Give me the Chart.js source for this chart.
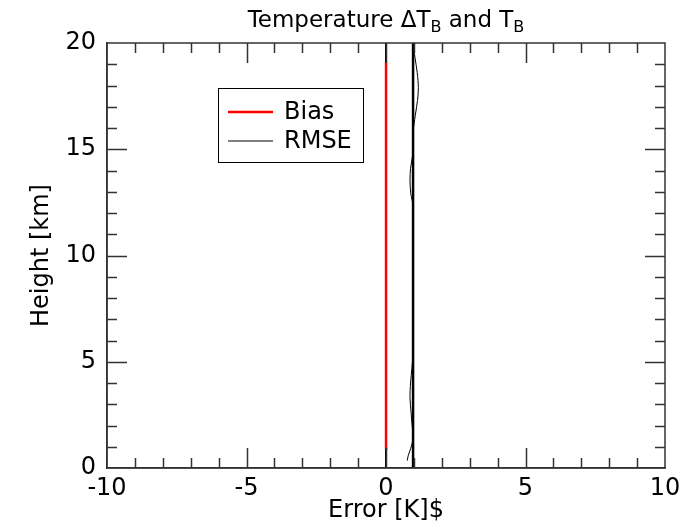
<!DOCTYPE html>
<html>
<head>
<meta charset="utf-8">
<script src="https://cdn.jsdelivr.net/npm/chart.js@4.4.1/dist/chart.umd.min.js"></script>
<style>
html,body{margin:0;padding:0;background:#fff;}
#wrap{width:699px;height:532px;}
</style>
</head>
<body>
<div id="wrap"><canvas id="c" width="699" height="532"></canvas></div>
<script>
// ---- data ----
const titleParts = [["Temperature \u0394T", false], ["B", true], [" and T", false], ["B", true]];
const xAxisTitle = "Error [K]$";
const yAxisTitle = "Height [km]";
const xTicks = [-10, -5, 0, 5, 10];
const yTicks = [0, 5, 10, 15, 20];

const zeroHeights = [0, 20];
const zeroValues = [0, 0];

const biasHeights = [0.9, 4.0, 7.3, 10.0, 13.0, 16.0, 19.1];
const biasValues  = [0.0, 0.0, 0.01, 0.0, 0.0, 0.0, 0.0];

const refHeights = [0, 20];
const refValues  = [0.97, 0.97];

const rmseHeights = [0.35, 0.6, 0.9, 1.3, 1.7, 2.1, 2.6, 3.3, 4.0, 4.7, 5.5, 8.0, 10.0, 12.4, 12.9, 13.5, 14.1, 14.7, 15.8, 16.6, 17.3, 17.9, 18.6, 19.3, 20.0];
const rmseValues  = [0.76, 0.80, 0.88, 0.96, 0.96, 0.93, 0.90, 0.86, 0.88, 0.93, 0.97, 0.97, 0.97, 0.96, 0.89, 0.86, 0.88, 0.95, 0.97, 1.05, 1.13, 1.16, 1.12, 1.04, 0.97];

const pts = (xs, ys) => ys.map((y, i) => ({x: xs[i], y: y}));

const FONT = "'DejaVu Sans', sans-serif";
const AXC = '#333333';

const decor = {
  id: 'decor',
  afterDraw(chart) {
    const ctx = chart.ctx;
    const a = chart.chartArea;
    const xs = chart.scales.x, ys = chart.scales.y;
    ctx.save();
    ctx.strokeStyle = AXC; ctx.lineWidth = 1.5;
    ctx.strokeRect(a.left, a.top, a.right - a.left, a.bottom - a.top);
    ctx.beginPath();
    for (let v = -10; v <= 10; v++) {
      if (v === -10 || v === 10) continue;
      const p = Math.round(xs.getPixelForValue(v)) + 0.5;
      const L = (v % 5 === 0) ? 20 : 10;
      ctx.moveTo(p, a.bottom); ctx.lineTo(p, a.bottom - L);
      ctx.moveTo(p, a.top); ctx.lineTo(p, a.top + L);
    }
    for (let v = 0; v <= 20; v++) {
      if (v === 0 || v === 20) continue;
      const p = Math.round(ys.getPixelForValue(v)) + 0.5;
      const L = (v % 5 === 0) ? 20 : 10;
      ctx.moveTo(a.left, p); ctx.lineTo(a.left + L, p);
      ctx.moveTo(a.right, p); ctx.lineTo(a.right - L, p);
    }
    ctx.stroke();

    const big = "24px " + FONT, small = "16px " + FONT, tbig = "23px " + FONT;
    let total = 0;
    titleParts.forEach(([t, sub]) => { ctx.font = sub ? small : tbig; total += ctx.measureText(t).width; });
    let x = (a.left + a.right) / 2 - total / 2;
    const base = 27;
    ctx.fillStyle = '#000'; ctx.textBaseline = 'alphabetic'; ctx.textAlign = 'left';
    titleParts.forEach(([t, sub]) => {
      ctx.font = sub ? small : tbig;
      ctx.fillText(t, x, sub ? base + 5 : base);
      x += ctx.measureText(t).width;
    });

    ctx.font = big; ctx.textAlign = 'center'; ctx.textBaseline = 'middle';
    ctx.fillText(xAxisTitle, (a.left + a.right) / 2, 511);
    ctx.save();
    ctx.translate(42, (a.top + a.bottom) / 2);
    ctx.rotate(-Math.PI / 2);
    ctx.fillText(yAxisTitle, 0, 0);
    ctx.restore();

    const items = chart.data.datasets.filter(d => d.label);
    ctx.lineWidth = 1; ctx.strokeStyle = '#000';
    ctx.strokeRect(218.5, 88.5, 145, 74);
    items.forEach((d, i) => {
      const y = 112 + i * 29;
      ctx.strokeStyle = d.borderColor; ctx.lineWidth = d.borderWidth;
      ctx.beginPath(); ctx.moveTo(228, y); ctx.lineTo(273, y); ctx.stroke();
      ctx.fillStyle = '#000'; ctx.font = big; ctx.textAlign = 'left'; ctx.textBaseline = 'middle';
      ctx.fillText(d.label, 284, y + 1);
    });
    ctx.restore();
  }
};

new Chart(document.getElementById('c'), {
  type: 'scatter',
  data: {
    datasets: [
      {data: pts(zeroValues, zeroHeights), showLine: true, borderColor: '#000', borderWidth: 2, pointRadius: 0, order: 3},
      {data: pts(refValues, refHeights), showLine: true, borderColor: '#000', borderWidth: 2.5, pointRadius: 0, order: 2},
      {label: 'Bias', data: pts(biasValues, biasHeights), showLine: true, borderColor: '#ff0000', borderWidth: 2.5, pointRadius: 0, order: 1},
      {label: 'RMSE', data: pts(rmseValues, rmseHeights), showLine: true, borderColor: '#000', borderWidth: 1, pointRadius: 0, tension: 0.3, order: 0}
    ]
  },
  options: {
    responsive: false,
    animation: false,
    layout: {padding: {top: 43, right: 34, left: 0, bottom: 0}},
    plugins: {legend: {display: false}, title: {display: false}, tooltip: {enabled: false}},
    scales: {
      x: {
        type: 'linear', min: -10, max: 10,
        afterFit: s => { s.height = 64; },
        afterBuildTicks: s => { s.ticks = xTicks.map(v => ({value: v})); },
        grid: {display: false, drawTicks: false},
        border: {display: true, color: AXC, width: 1.5},
        ticks: {color: '#000', font: {family: FONT, size: 24}, padding: 6, maxRotation: 0}
      },
      y: {
        type: 'linear', min: 0, max: 20,
        afterFit: s => { s.width = 107; },
        afterBuildTicks: s => { s.ticks = yTicks.map(v => ({value: v})); },
        grid: {display: false, drawTicks: false},
        border: {display: true, color: AXC, width: 1.5},
        ticks: {color: '#000', font: {family: FONT, size: 24}, padding: 11}
      }
    }
  },
  plugins: [decor]
});
</script>
</body>
</html>
